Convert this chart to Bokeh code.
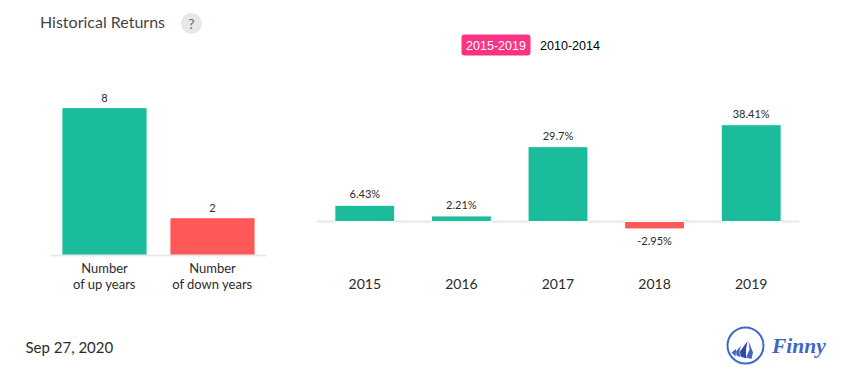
from bokeh.plotting import figure
from bokeh.layouts import column, row
from bokeh.models import ColumnDataSource, FactorRange, Range1d, Span, BoxAnnotation
from bokeh.core.properties import value
from bokeh.embed import file_html
from bokeh.resources import INLINE

count_labels = ["Number\nof up years", "Number\nof down years"]
count_values = [8, 2]
count_text = ["8", "2"]
years = ["2015", "2016", "2017", "2018", "2019"]
returns = [6.43, 2.21, 29.7, -2.95, 38.41]
return_text = ["6.43%", "2.21%", "29.7%", "-2.95%", "38.41%"]
title = "Historical Returns"
periods = ["2015-2019", "2010-2014"]
date_text = "Sep 27, 2020"
brand = "Finny"

GREEN, RED, GRID = "#1ABC9C", "#FF5858", "#E8E8E8"
TXT = "#2B2B2B"
BLUE = "#3F66C8"


def bare(p):
    p.outline_line_color = None
    p.grid.visible = False
    p.background_fill_color = "white"
    p.border_fill_color = "white"


def px_fig(w, h, x0, y0):
    p = figure(width=w, height=h, x_range=Range1d(x0, x0 + w), y_range=Range1d(y0 + h, y0),
               toolbar_location=None, output_backend="svg", min_border=0)
    p.axis.visible = False
    bare(p)
    return p


def style_axis(p, size, line_height):
    ax = p.xaxis[0]
    ax.major_tick_line_color = None
    ax.minor_tick_line_color = None
    ax.major_tick_out = 0
    ax.major_label_text_font = "Lato"
    ax.major_label_text_font_size = size
    ax.major_label_text_color = TXT
    ax.major_label_text_line_height = line_height
    p.yaxis.visible = False


# header
head = px_fig(847, 60, 0, 0)
head.text([39.5], [21], text=[title], text_font=value("Lato"), text_font_size="16px",
          text_color="#444444", text_baseline="middle")
head.circle([191], [23], radius=10.5, fill_color="#E8E8E8", line_color=None)
head.text([191], [23], text=["?"], text_font=value("Lato"), text_font_size="14px",
          text_color="#666666", text_align="center", text_baseline="middle")
head.add_layout(BoxAnnotation(left=461, right=530, top=34, bottom=55, fill_color="#FB3385",
                              fill_alpha=1, line_color=None, border_radius=3, level="underlay"))
head.text([495.5, 569.5], [44.5, 44.5], text=periods, text_font=value("Liberation Sans"),
          text_font_size="12.5px", text_color=["white", "black"], text_align="center",
          text_baseline="middle")

# left chart
src_l = ColumnDataSource(dict(x=count_labels, top=count_values, label=count_text,
                              color=[GREEN, RED]))
left = figure(width=300, height=248, x_range=FactorRange(*count_labels), y_range=Range1d(0, 195 / 18.35),
              toolbar_location=None, output_backend="svg", frame_align=False,
              min_border_left=50, min_border_right=34, min_border_top=0, min_border_bottom=53)
bare(left)
style_axis(left, "13px", 1.05)
left.x_range.range_padding = 0
left.x_range.factor_padding = 0
left.x_range.group_padding = 0
ax = left.xaxis[0]
ax.axis_line_color = GRID
ax.axis_line_width = 2
ax.major_label_standoff = 4
left.vbar(x="x", top="top", width=0.77, bottom=0, color="color", source=src_l)
left.text(x="x", y="top", text="label", source=src_l, text_font=value("Lato"), text_font_size="11px",
          text_color=TXT, text_align="center", text_baseline="bottom", y_offset=-7)

# right chart
src_r = ColumnDataSource(dict(x=years, top=returns, label=return_text,
                              color=[GREEN if v >= 0 else RED for v in returns]))
pos = ColumnDataSource({k: [src_r.data[k][i] for i, v in enumerate(returns) if v >= 0] for k in src_r.data})
neg = ColumnDataSource({k: [src_r.data[k][i] for i, v in enumerate(returns) if v < 0] for k in src_r.data})
right = figure(width=547, height=248, x_range=FactorRange(*years), y_range=Range1d(-51 / 2.52, 161 / 2.52),
               toolbar_location=None, output_backend="svg", frame_align=False,
               min_border_left=16, min_border_right=48, min_border_top=0, min_border_bottom=36)
bare(right)
style_axis(right, "14px", 1.0)
right.x_range.range_padding = 0
right.x_range.factor_padding = 0
ax = right.xaxis[0]
ax.axis_line_color = None
ax.major_label_standoff = 6
right.add_layout(Span(location=0, dimension="width", line_color=GRID, line_width=2, level="underlay"))
right.vbar(x="x", top="top", width=0.62, bottom=0, fill_color="color", line_color="white", line_width=1,
           source=src_r)
right.text(x="x", y="top", text="label", source=pos, text_font=value("Lato"), text_font_size="11px",
           text_color=TXT, text_align="center", text_baseline="bottom", y_offset=-5)
right.text(x="x", y="top", text="label", source=neg, text_font=value("Lato"), text_font_size="11px",
           text_color=TXT, text_align="center", text_baseline="top", y_offset=5)

# footer
foot = px_fig(847, 66, 0, 308)
foot.text([25], [346], text=[date_text], text_font=value("Lato"), text_font_size="15px",
          text_color=TXT, text_baseline="middle")
foot.circle([745], [345], radius=18, fill_color=None, line_color=BLUE, line_width=2)
foot.patches([[748, 752.5, 751, 745.5, 749], [747, 739.5, 740, 745.5, 745.5],
              [740.5, 735.5, 736, 739.5, 739], [735.5, 731, 735, 735.5]],
             [[340.5, 352, 358.5, 357, 349], [340.5, 351, 356, 358, 349],
              [345, 351, 355, 356.5, 350], [348.5, 352, 356, 351]],
             fill_color=[BLUE, "#2A4BA8", BLUE, BLUE], line_color=None)
foot.text([771.5], [345.5], text=[brand], text_font=value("Liberation Serif"), text_font_size="21.5px",
          text_font_style="bold italic", text_color=BLUE, text_baseline="middle")

page = column(head, row(left, right), foot)
open("out.html", "w").write(file_html(page, INLINE))
